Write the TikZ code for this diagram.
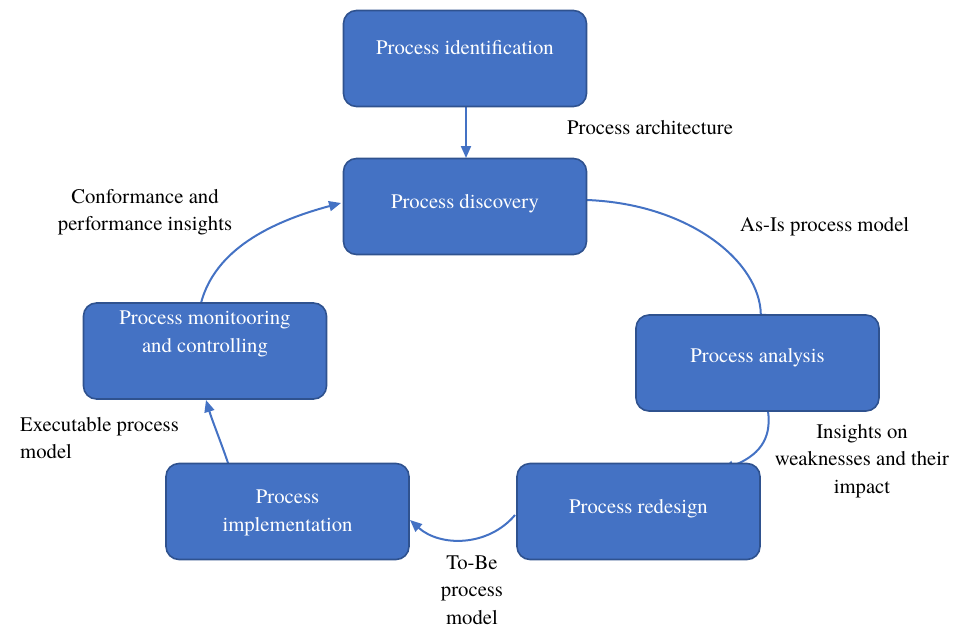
\documentclass[tikz,border=0pt]{standalone}
\usepackage{fontspec}
\newfontfamily\timesfont{texgyretermes-regular.otf}
\usetikzlibrary{arrows.meta}
\pgfdeclarelayer{background}
\pgfsetlayers{background,main}
\definecolor{boxblue}{HTML}{4472C4}
\definecolor{boxedge}{HTML}{2F528F}
\begin{document}
\begin{tikzpicture}[x=1pt,y=-1pt,
  stagebox/.style={draw=boxedge,line width=1.6pt,fill=boxblue,rounded corners=13pt,
    minimum width=243pt,minimum height=96pt,inner sep=0pt},
  boxtext/.style={text=white,font=\timesfont\fontsize{20.7}{28.5}\selectfont,align=center,inner sep=0pt},
  lbl/.style={text=black,font=\timesfont\fontsize{20.7}{27.5}\selectfont,inner sep=0pt},
  flow/.style={draw=boxblue,line width=2pt,-{Triangle[length=12pt,width=10pt]}}]
\useasboundingbox (0,0) rectangle (960,627);
% boxes
\node[stagebox] (ident) at (465,58.5) {};
\node[stagebox] (disc) at (465,206.5) {};
\node[stagebox] (anal) at (757.5,363) {};
\node[stagebox] (redes) at (638.5,511.5) {};
\node[stagebox] (impl) at (287.5,511.5) {};
\node[stagebox] (monit) at (205,351) {};
% box texts
\node[boxtext] (tident) at (465,48) {Process identification};
\node[boxtext] (tdisc) at (465,204) {Process discovery};
\node[boxtext] (tanal) at (757.5,358) {Process analysis};
\node[boxtext] (tredes) at (638.5,509) {Process redesign};
\node[boxtext] (timpl) at (287.5,513) {Process\\implementation};
\node[boxtext] (tmonit) at (205,334) {Process monitooring\\and controlling};
% labels
\node[lbl,anchor=west] (larch) at (567,128) {Process architecture};
\node[lbl,anchor=west] (lasis) at (740,227) {As-Is process model};
\node[lbl,align=center] (lins) at (862,461) {Insights on\\weaknesses and their\\impact};
\node[lbl,align=center] (ltobe) at (472,590) {To-Be\\process\\model};
\node[lbl,align=left,anchor=west] (lexec) at (20,438) {Executable process\\model};
\node[lbl,align=center] (lconf) at (145,212) {Conformance and\\performance insights};
% connectors
\begin{pgfonlayer}{background}
\coordinate (p1) at (466,158);
\draw[flow] (ident.south -| p1) -- (p1);
\coordinate (s2) at (587,200);
\coordinate (e2) at (761,326);
\draw[flow] (s2) .. controls (690,204) and (760,262) .. (e2);
\coordinate (s3) at (768,411);
\coordinate (e3) at (722,470);
\draw[flow] (s3) .. controls (772,440) and (758,456) .. (e3);
\coordinate (s4) at (515,515);
\coordinate (e4) at (410,520);
\draw[flow] (s4) .. controls (488,547) and (440,547) .. (e4);
\coordinate (s5) at (228,463);
\coordinate (e5) at (206,400);
\draw[flow] (s5) .. controls (222,445) and (212,420) .. (e5);
\coordinate (s6) at (201,303);
\coordinate (e6) at (341,203);
\draw[flow] (s6) .. controls (215,250) and (270,222) .. (e6);
\end{pgfonlayer}
\end{tikzpicture}
\end{document}
